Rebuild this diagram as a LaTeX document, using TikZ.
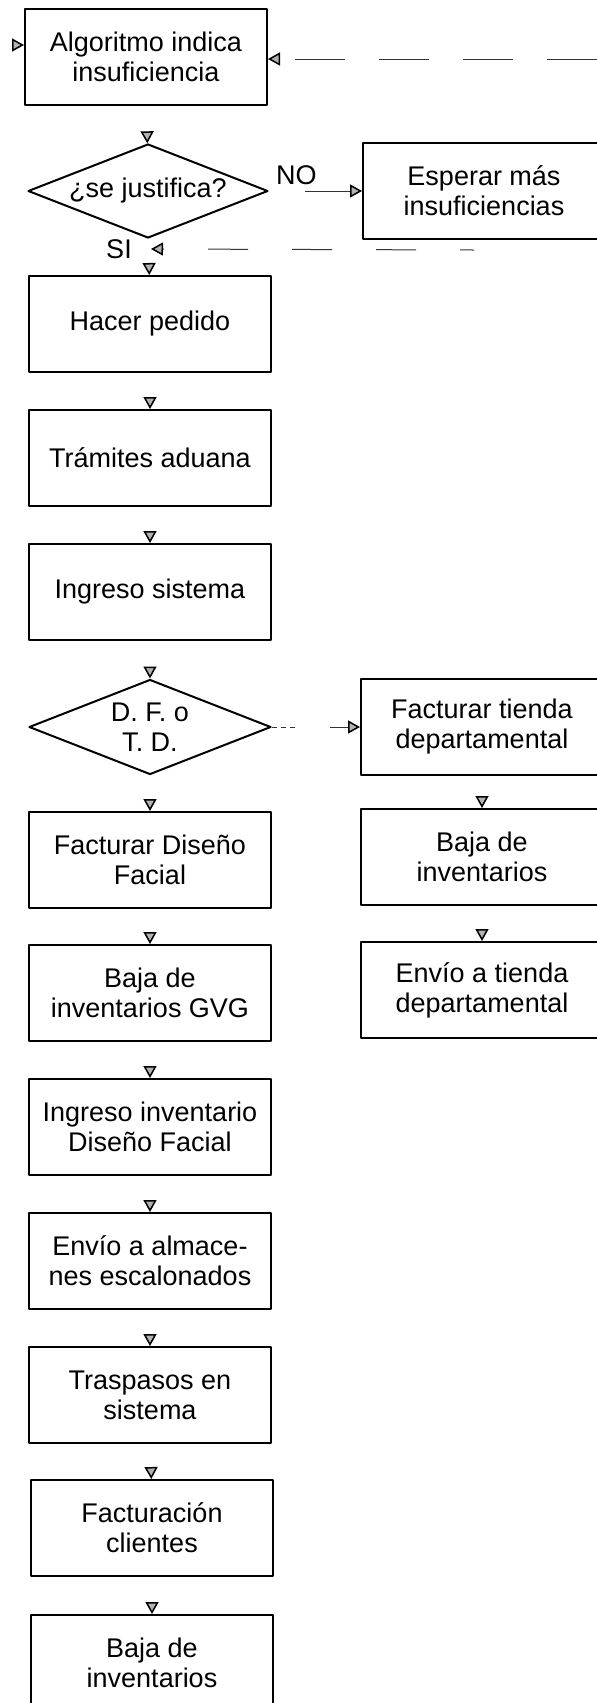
\documentclass[tikz,border=0pt]{standalone}
\usepackage{fontspec}
\setmainfont{Liberation Sans}
\usetikzlibrary{shapes.geometric,arrows.meta}
\begin{document}
\begin{tikzpicture}[x=1pt,y=-1pt,font=\fontsize{27}{30}\selectfont,line join=round,
  >={Triangle[length=12pt,width=13pt,color=black,fill=gray!60,line width=1.5pt]},
  box/.style={draw,line width=2pt,minimum width=242pt,minimum height=96pt,inner sep=0pt,align=center},
  dec/.style={draw,diamond,line width=2pt,minimum width=242pt,minimum height=95pt,inner sep=0pt,aspect=2.5,align=center},
  lbl/.style={inner sep=0pt},
  flow/.style={draw=white,line width=0.6pt,->,shorten <=2pt},
  loopline/.style={draw=black!80,line width=1pt,->,dash pattern=on 50pt off 34pt},
  backline/.style={draw=black!80,line width=1pt,->,dash pattern=on 40pt off 44pt,dash phase=26pt}]
\def \colL{150}
\def \colR{482}
\useasboundingbox (0,0) rectangle (597,1703);
\clip (0,0) rectangle (597,1703);
% main column
\node[box] (algoritmo) at (146,57) {Algoritmo indica\\insuficiencia};
\node[dec,minimum width=240pt,minimum height=94pt] (justifica) at (148,191) {¿se justifica?};
\node[box] (hacer) at (\colL,324) {Hacer pedido};
\node[box] (tramites) at (\colL,458) {Trámites aduana};
\node[box] (ingreso) at (\colL,592) {Ingreso sistema};
\node[dec] (dfotd) at (\colL,727) {D. F. o\\T. D.};
\node[box] (factdf) at (\colL,860) {Facturar Diseño\\Facial};
\node[box] (bajagvg) at (\colL,993) {Baja de\\inventarios GVG};
\node[box] (ingresoinv) at (\colL,1127) {Ingreso inventario\\Diseño Facial};
\node[box] (envioalm) at (\colL,1261) {Envío a almace-\\nes escalonados};
\node[box] (traspasos) at (\colL,1395) {Traspasos en\\sistema};
\node[box] (facturacion) at (152,1528) {Facturación\\clientes};
\node[box] (bajainv) at (152,1663) {Baja de\\inventarios};
% right column
\node[box] (esperar) at (484,191) {Esperar más\\insuficiencias};
\node[box] (facttienda) at (\colR,727) {Facturar tienda\\departamental};
\node[box] (bajatienda) at (\colR,857) {Baja de\\inventarios};
\node[box] (enviotienda) at (\colR,990) {Envío a tienda\\departamental};
% labels
\node[lbl,anchor=south west] (no) at ([xshift=7pt,yshift=6pt]justifica.east) {NO};
\node[lbl] (si) at (119,249) {SI};
% free ends
\coordinate (startin) at (0,45);
\coordinate (loopin) at (597,59);
\coordinate (esperarout) at (474,250);
\coordinate (sijoin) at (151,249);
% connectors
\draw[flow] (startin) -- (startin -| algoritmo.west);
\draw[loopline] (loopin) -- (loopin -| algoritmo.east);
\draw[backline] (esperarout) -- (sijoin);
\draw[black!80,line width=0.9pt,->,shorten <=36pt] (justifica.east) -- (esperar.west);
\draw[black!80,line width=0.9pt,->,dash pattern=on 5pt off 4pt on 5pt off 4pt on 5pt off 35pt on 60pt off 0pt] (dfotd.east) -- (facttienda.west);
\foreach \a/\b in {algoritmo/justifica,justifica/hacer,hacer/tramites,tramites/ingreso,ingreso/dfotd,dfotd/factdf,factdf/bajagvg,bajagvg/ingresoinv,ingresoinv/envioalm,envioalm/traspasos,traspasos/facturacion,facturacion/bajainv,facttienda/bajatienda,bajatienda/enviotienda}
  \draw[flow] (\a) -- (\b);
\end{tikzpicture}
\end{document}
